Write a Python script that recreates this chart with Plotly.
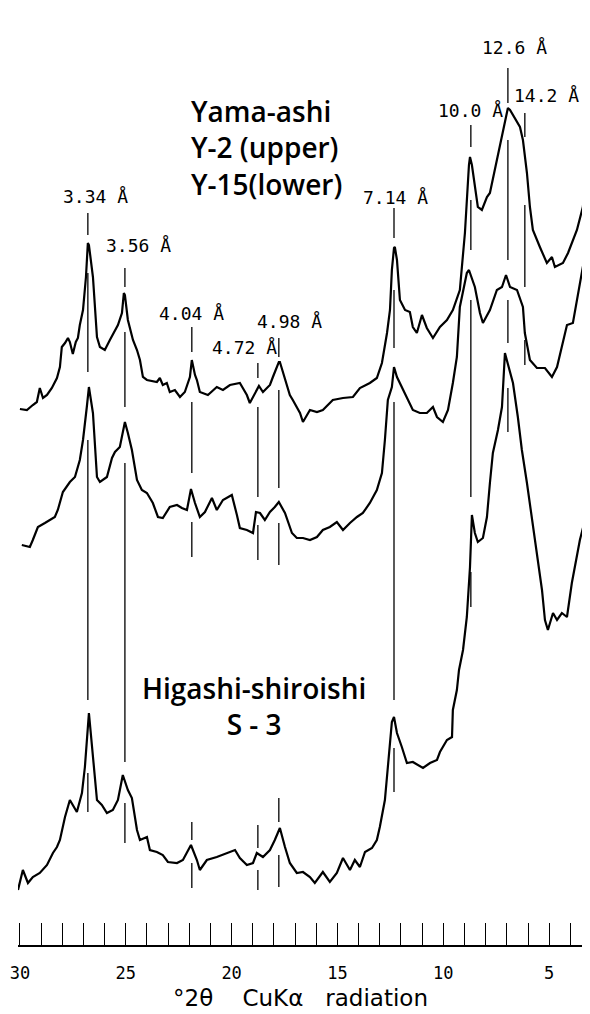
import plotly.graph_objects as go

# ---------------- data (2theta in degrees, intensity in arbitrary units, traces offset) -------------
y2_theta = [30.00, 29.67, 29.39, 29.20, 29.06, 28.91, 28.72, 28.49, 28.25, 28.11, 28.02, 27.87, 27.73, 27.64,
            27.50, 27.36, 27.26, 27.17, 27.02, 26.88, 26.79, 26.74, 26.55, 26.36, 26.22, 25.99, 25.75, 25.51,
            25.37, 25.18, 25.09, 25.04, 24.90, 24.66, 24.47, 24.33, 24.19, 24.00, 23.53, 23.39, 23.25, 23.06,
            22.92, 22.68, 22.44, 22.21, 21.97, 21.88, 21.73, 21.64, 21.50, 21.12, 20.70, 20.41, 20.08, 19.61,
            19.28, 19.14, 18.81, 18.71, 18.52, 18.19, 18.05, 17.77, 17.72, 17.48, 17.25, 17.11, 16.77, 16.63,
            16.30, 15.97, 15.69, 15.22, 14.74, 14.27, 13.94, 13.47, 13.14, 12.90, 12.66, 12.52, 12.43, 12.33,
            12.29, 12.19, 12.05, 11.81, 11.58, 11.44, 11.25, 11.01, 10.78, 10.49, 10.16, 9.83, 9.55, 9.22,
            8.98, 8.79, 8.74, 8.65, 8.51, 8.37, 8.18, 7.94, 7.80, 7.47, 7.19, 7.04, 6.95, 6.85, 6.71, 6.62,
            6.38, 6.24, 6.05, 5.91, 5.77, 5.44, 5.11, 4.87, 4.73, 4.35, 4.11, 3.69, 3.41, 3.17, 3.08]
y2_counts = [536, 535, 540, 543, 557, 547, 550, 557, 567, 578, 598, 602, 607, 603,
             591, 603, 607, 620, 635, 668, 702, 700, 668, 608, 598, 595, 605, 615,
             620, 632, 652, 650, 625, 605, 595, 585, 568, 565, 563, 567, 560, 562,
             553, 555, 548, 553, 568, 585, 570, 565, 553, 550, 558, 555, 560, 562,
             550, 542, 555, 559, 553, 560, 568, 583, 583, 565, 550, 545, 532, 523,
             535, 533, 535, 545, 547, 548, 557, 562, 567, 582, 612, 635, 675, 697,
             698, 685, 645, 635, 633, 618, 612, 630, 617, 607, 618, 625, 635, 655,
             712, 780, 788, 780, 758, 738, 735, 748, 752, 785, 815, 830, 837, 835, 830, 828,
             818, 805, 772, 738, 715, 698, 682, 688, 678, 682, 692, 715, 738, 785, 845]

y15_theta = [29.91, 29.53, 29.39, 29.15, 28.82, 28.58, 28.35, 28.21, 27.97, 27.64, 27.40, 27.17, 27.02, 26.84,
             26.74, 26.55, 26.36, 26.22, 25.89, 25.65, 25.51, 25.28, 25.04, 24.90, 24.71, 24.47, 24.24, 24.00,
             23.72, 23.48, 23.25, 22.92, 22.58, 22.35, 22.11, 21.92, 21.73, 21.50, 21.26, 20.93, 20.70, 20.41,
             19.99, 19.75, 19.61, 19.28, 18.99, 18.85, 18.66, 18.43, 18.19, 17.96, 17.77, 17.48, 17.15, 16.92,
             16.63, 16.30, 15.97, 15.69, 15.36, 15.03, 14.74, 14.41, 14.08, 13.80, 13.47, 13.14, 12.90, 12.76,
             12.62, 12.43, 12.33, 12.19, 11.96, 11.72, 11.44, 11.11, 10.78, 10.49, 10.30, 10.02, 9.78, 9.55,
             9.36, 9.22, 8.89, 8.79, 8.51, 8.27, 8.13, 7.80, 7.47, 7.23, 7.04, 6.85, 6.52, 6.24, 6.15, 5.91,
             5.58, 5.20, 4.87, 4.63, 4.35, 4.16, 3.88, 3.69, 3.41, 3.08]
y15_counts = [400, 398, 405, 418, 422, 425, 428, 435, 453, 463, 468, 485, 505, 538,
              558, 532, 468, 463, 468, 487, 493, 498, 523, 512, 495, 465, 455, 452,
              442, 428, 427, 438, 440, 437, 435, 456, 442, 428, 433, 447, 435, 445,
              450, 430, 417, 415, 412, 433, 432, 425, 433, 438, 443, 432, 412, 407,
              407, 405, 408, 415, 418, 423, 415, 422, 428, 432, 442, 455, 472, 505,
              545, 558, 578, 568, 558, 548, 535, 532, 532, 538, 528, 523, 535, 562,
              588, 638, 672, 675, 658, 632, 622, 635, 655, 658, 670, 658, 655, 638, 612, 585,
              577, 577, 568, 578, 602, 620, 622, 645, 678, 710]

s3_theta = [30.09, 29.86, 29.62, 29.39, 29.06, 28.72, 28.44, 28.25, 28.11, 27.87, 27.64, 27.31, 27.07, 26.93,
            26.74, 26.55, 26.36, 26.13, 25.89, 25.61, 25.37, 25.14, 24.90, 24.71, 24.47, 24.33, 24.00, 23.86,
            23.53, 23.25, 23.01, 22.58, 22.30, 21.92, 21.64, 21.50, 21.17, 20.70, 20.22, 19.84, 19.61, 19.28,
            18.99, 18.81, 18.52, 18.19, 17.96, 17.72, 17.48, 17.25, 16.92, 16.63, 16.30, 16.07, 15.69, 15.36,
            15.03, 14.74, 14.41, 14.18, 13.94, 13.70, 13.37, 13.14, 13.00, 12.76, 12.62, 12.52, 12.43, 12.33,
            12.19, 11.96, 11.72, 11.44, 11.20, 10.96, 10.63, 10.30, 10.16, 9.83, 9.59, 9.55, 9.36, 9.26, 9.07,
            8.89, 8.74, 8.65, 8.51, 8.37, 8.13, 7.94, 7.80, 7.66, 7.42, 7.23, 7.09, 6.85, 6.71, 6.48, 6.29,
            6.05, 5.82, 5.58, 5.34, 5.20, 5.06, 4.82, 4.63, 4.40, 4.16, 3.93, 3.69, 3.55, 3.31, 3.17, 3.08]
s3_counts = [55, 75, 62, 68, 72, 80, 92, 98, 105, 128, 145, 133, 152, 178,
             232, 192, 145, 140, 132, 135, 145, 170, 155, 147, 115, 105, 108, 95,
             93, 90, 83, 82, 85, 100, 85, 75, 85, 88, 92, 95, 87, 80,
             82, 92, 88, 95, 105, 117, 98, 82, 72, 73, 68, 62, 73, 63,
             72, 87, 75, 85, 78, 93, 97, 105, 118, 145, 178, 202, 223, 228,
             212, 198, 182, 183, 180, 177, 182, 185, 193, 205, 208, 235, 255, 275, 295,
             328, 378, 430, 412, 403, 407, 428, 462, 492, 515, 538, 592, 572, 562, 528, 495,
             462, 428, 395, 355, 325, 315, 332, 325, 332, 328, 362, 388, 405, 425, 455, 462]

# peak markers: d-spacing label, 2theta position, label position, vertical marker segments
peak_labels = ["3.34 Å", "3.56 Å", "4.04 Å", "4.72 Å", "4.98 Å", "7.14 Å", "10.0 Å", "12.6 Å", "14.2 Å"]
peak_theta = [26.79, 25.04, 21.88, 18.76, 17.77, 12.33, 8.70, 6.95, 6.15]
label_theta = [26.41, 24.38, 21.88, 19.40, 17.25, 12.24, 8.74, 6.62, 5.15]
label_counts = [749, 700, 632, 598, 624, 748, 835, 898, 850]
peak_segments = [
    [(732, 710), (672, 573), (505, 245), (172, 133)],
    [(677, 658), (613, 538), (482, 183), (142, 102)],
    [(618, 593), (543, 472), (423, 388), (123, 105), (82, 57)],
    [(582, 567), (538, 448), (420, 385), (120, 97), (75, 55)],
    [(607, 588), (555, 457), (422, 380), (147, 123), (90, 58)],
    [(737, 707), (655, 597), (543, 245), (197, 153)],
    [(820, 798), (745, 695), (645, 448), (373, 338)],
    [(877, 842), (805, 685), (645, 602), (557, 513)],
    [(832, 808), (740, 658), (605, 580)],
]

sample_titles = ["Yama-ashi<br>Y-2 (upper)<br>Y-15(lower)", "Higashi-shiroishi<br>S - 3"]
title_theta = [22.02, 18.95]
title_counts = [798, 239]
title_align = ["left", "center"]

x_title = "°2θ    CuKα   radiation"
x_title_theta = 16.77
x_ticks = [30, 25, 20, 15, 10, 5]

# ---------------- figure -------------
fig = go.Figure()
for th, ct in [(y2_theta, y2_counts), (y15_theta, y15_counts), (s3_theta, s3_counts)]:
    fig.add_trace(go.Scatter(x=th, y=ct, mode="lines",
                             line=dict(color="black", width=2.2), showlegend=False, hoverinfo="skip"))

seg_x, seg_y = [], []
for th, segs in zip(peak_theta, peak_segments):
    for a, b in segs:
        seg_x += [th, th, None]
        seg_y += [a, b, None]
fig.add_trace(go.Scatter(x=seg_x, y=seg_y, mode="lines", line=dict(color="black", width=1.3),
                         showlegend=False, hoverinfo="skip"))

annotations = []
mono = "DejaVu Sans Mono, Liberation Mono, monospace"
sans = "Open Sans, Lato, sans-serif"
for txt, lx, ly in zip(peak_labels, label_theta, label_counts):
    annotations.append(dict(x=lx, y=ly, text=txt, showarrow=False, xanchor="center", yanchor="middle",
                            font=dict(family=mono, size=18, color="black")))
for txt, lx, ly, al in zip(sample_titles, title_theta, title_counts, title_align):
    annotations.append(dict(x=lx, y=ly, text=txt, showarrow=False,
                            xanchor="left" if al == "left" else "center", yanchor="middle", align=al,
                            font=dict(family=sans, size=28, color="black", weight=600)))
# x-axis title
annotations.append(dict(x=x_title_theta, xref="x", y=-0.0566, yref="paper", text=x_title, showarrow=False,
                        xanchor="center", yanchor="middle",
                        font=dict(family="DejaVu Sans, sans-serif", size=23, color="black")))

fig.update_layout(
    width=574, height=1006,
    margin=dict(l=10, r=0, t=0, b=69),
    paper_bgcolor="white", plot_bgcolor="white",
    annotations=annotations,
    xaxis=dict(range=[30.09, 3.45], tickvals=x_ticks, ticktext=[str(v) for v in x_ticks],
               ticks="inside", ticklen=22, tickwidth=1.3, tickcolor="black",
               minor=dict(dtick=1, tick0=0, ticks="inside", ticklen=22, tickwidth=1.3, tickcolor="black"),
               showline=True, linecolor="black", linewidth=1.5, showgrid=False, zeroline=False,
               ticklabelstandoff=12, ticklabeloverflow="allow",
               tickfont=dict(family=mono, size=17, color="black")),
    yaxis=dict(range=[0, 937], visible=False, showgrid=False, zeroline=False),
)

fig.write_html("out.html")
